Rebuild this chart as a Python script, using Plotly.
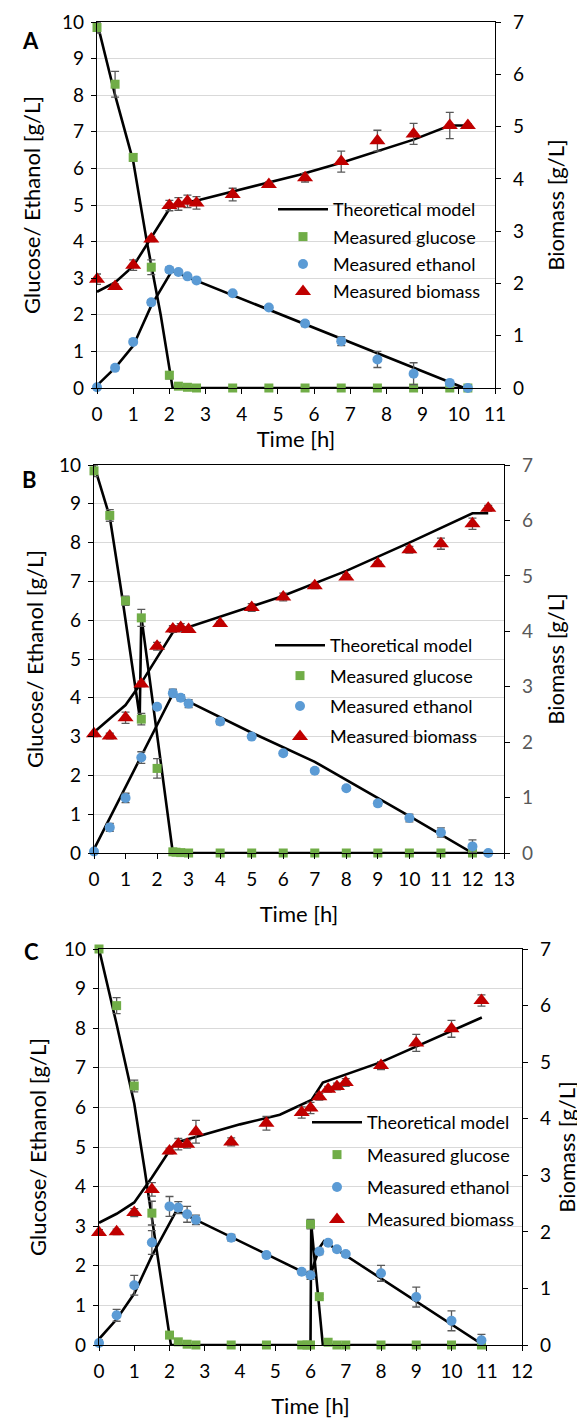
import plotly.graph_objects as go

# ---------------- Panel A ----------------
a_t_glc = [0, 0.5, 1.0, 1.5, 2.0, 2.25, 2.5, 2.75, 3.75, 4.75, 5.75, 6.75, 7.75, 8.75, 9.75, 10.25]
a_glc = [9.85, 8.3, 6.3, 3.3, 0.35, 0.05, 0.02, 0.0, 0.0, 0.0, 0.0, 0.0, 0.0, 0.0, 0.0, 0.0]
a_glc_err = [0.15, 0.35, 0.1, 0.2, 0.1, 0.02, 0.02, 0.02, 0.02, 0.02, 0.02, 0.02, 0.02, 0.05, 0.02, 0.02]

a_t_eth = [0, 0.5, 1.0, 1.5, 2.0, 2.25, 2.5, 2.75, 3.75, 4.75, 5.75, 6.75, 7.75, 8.75, 9.75, 10.25]
a_eth = [0.02, 0.55, 1.26, 2.34, 3.23, 3.17, 3.05, 2.94, 2.59, 2.2, 1.76, 1.28, 0.78, 0.39, 0.14, 0.0]
a_eth_err = [0.05, 0.05, 0.05, 0.07, 0.07, 0.05, 0.05, 0.05, 0.04, 0.05, 0.08, 0.12, 0.22, 0.3, 0.05, 0.02]

a_t_bio = [0, 0.5, 1.0, 1.5, 2.0, 2.25, 2.5, 2.75, 3.75, 4.75, 5.75, 6.75, 7.75, 8.75, 9.75, 10.25]
a_bio = [2.08, 1.94, 2.35, 2.85, 3.49, 3.52, 3.57, 3.54, 3.70, 3.89, 4.02, 4.33, 4.73, 4.86, 5.02, 5.02]
a_bio_err = [0.1, 0.05, 0.1, 0.05, 0.1, 0.12, 0.12, 0.12, 0.12, 0.05, 0.08, 0.2, 0.2, 0.2, 0.25, 0.03]

a_mod_t_glc = [0, 0.5, 1.0, 1.37, 1.76, 2.09, 10.3]
a_mod_glc = [10, 8.0, 6.2, 4.04, 2.0, 0, 0]
a_mod_t_eth = [0, 0.5, 1.0, 1.5, 2.07, 10.15]
a_mod_eth = [0.07, 0.55, 1.15, 2.25, 3.2, 0]
a_mod_t_bio = [0, 0.5, 1.0, 1.5, 2.06, 2.85, 5.6, 6.75, 8.75, 9.75, 10.35]
a_mod_bio = [1.84, 2.02, 2.33, 2.87, 3.49, 3.6, 4.08, 4.31, 4.75, 5.02, 5.02]

# ---------------- Panel B ----------------
b_t_glc = [0, 0.5, 1.0, 1.5, 1.5, 2.0, 2.5, 2.6, 2.75, 3.0, 4, 5, 6, 7, 8, 9, 10, 11, 12]
b_glc = [9.85, 8.7, 6.5, 6.06, 3.45, 2.18, 0.03, 0.02, 0.01, 0.0, 0, 0, 0, 0, 0, 0, 0, 0, 0]
b_glc_err = [0.15, 0.15, 0.12, 0.22, 0.15, 0.25, 0.02, 0.02, 0.02, 0.02, 0.02, 0.02, 0.02, 0.02, 0.02, 0.02, 0.02, 0.02, 0.02]

b_t_eth = [0, 0.5, 1.0, 1.5, 2.0, 2.5, 2.75, 3.0, 4, 5, 6, 7, 8, 9, 10, 11, 12, 12.5]
b_eth = [0.04, 0.66, 1.42, 2.46, 3.77, 4.12, 4.0, 3.85, 3.39, 3.0, 2.57, 2.12, 1.67, 1.28, 0.9, 0.53, 0.17, 0.0]
b_eth_err = [0.05, 0.1, 0.12, 0.15, 0.05, 0.1, 0.08, 0.1, 0.08, 0.04, 0.05, 0.05, 0.05, 0.07, 0.1, 0.12, 0.17, 0.02]

b_t_bio = [0, 0.5, 1.0, 1.5, 2.0, 2.5, 2.75, 3.0, 4, 5, 6, 7, 8, 9, 10, 11, 12, 12.5]
b_bio = [2.15, 2.11, 2.44, 3.05, 3.73, 4.04, 4.07, 4.03, 4.14, 4.43, 4.62, 4.82, 4.98, 5.22, 5.47, 5.58, 5.94, 6.22]
b_bio_err = [0.05, 0.05, 0.1, 0.05, 0.07, 0.06, 0.07, 0.05, 0.04, 0.07, 0.07, 0.05, 0.04, 0.04, 0.06, 0.1, 0.1, 0.05]

b_mod_t_glc = [0, 0.5, 0.86, 1.45, 1.5, 2.5, 12.5]
b_mod_glc = [10, 8.66, 6.78, 3.5, 6.1, 0, 0]
b_mod_t_eth = [0, 2.5, 5, 7, 10, 12.0]
b_mod_eth = [0.1, 4.1, 3.1, 2.35, 0.95, 0]
b_mod_t_bio = [0, 1.0, 1.5, 2.0, 2.5, 5.9, 8.0, 10.0, 12.0, 12.5]
b_mod_bio = [2.18, 2.67, 3.07, 3.53, 3.98, 4.62, 5.09, 5.6, 6.13, 6.13]

# ---------------- Panel C ----------------
c_t_glc = [0, 0.5, 1.0, 1.5, 2.0, 2.25, 2.5, 2.75, 3.75, 4.75, 5.75, 5.9, 6.0, 6.0, 6.25, 6.5, 6.75, 7.0, 8, 9, 10, 10.85]
c_glc = [10.0, 8.57, 6.54, 3.33, 0.25, 0.08, 0.02, 0.0, 0, 0, 0, 0, 0, 3.05, 1.22, 0.07, 0.0, 0.0, 0, 0, 0, 0]
c_glc_err = [0.03, 0.2, 0.15, 0.3, 0.05, 0.03, 0.02, 0.02, 0.02, 0.02, 0.02, 0.02, 0.02, 0.12, 0.05, 0.03, 0.02, 0.02, 0.02, 0.02, 0.02, 0.02]

c_t_eth = [0, 0.5, 1.0, 1.5, 2.0, 2.25, 2.5, 2.75, 3.75, 4.75, 5.75, 6.0, 6.25, 6.5, 6.75, 7.0, 8, 9, 10, 10.85]
c_eth = [0.05, 0.75, 1.51, 2.59, 3.5, 3.47, 3.3, 3.16, 2.71, 2.27, 1.85, 1.76, 2.36, 2.58, 2.42, 2.3, 1.81, 1.21, 0.61, 0.12]
c_eth_err = [0.08, 0.15, 0.25, 0.3, 0.25, 0.15, 0.2, 0.12, 0.08, 0.06, 0.05, 0.1, 0.08, 0.06, 0.06, 0.06, 0.2, 0.25, 0.25, 0.15]

c_t_bio = [0, 0.5, 1.0, 1.5, 2.0, 2.25, 2.5, 2.75, 3.75, 4.75, 5.75, 6.0, 6.25, 6.5, 6.75, 7.0, 8, 9, 10, 10.85]
c_bio = [1.99, 2.0, 2.34, 2.75, 3.43, 3.55, 3.55, 3.77, 3.59, 3.92, 4.11, 4.19, 4.39, 4.52, 4.57, 4.64, 4.94, 5.34, 5.59, 6.09]
c_bio_err = [0.05, 0.05, 0.07, 0.12, 0.05, 0.1, 0.07, 0.2, 0.07, 0.12, 0.1, 0.1, 0.06, 0.05, 0.06, 0.07, 0.07, 0.15, 0.15, 0.1]

c_mod_t_glc = [0, 0.5, 1.0, 1.3, 2.04, 6.0, 6.02, 6.35, 10.9]
c_mod_glc = [10, 8.1, 6.1, 4.4, 0, 0, 3.05, 0, 0]
c_mod_t_eth = [0, 0.5, 1.0, 1.5, 2.2, 6.0, 6.1, 6.25, 6.38, 10.9]
c_mod_eth = [0.15, 0.65, 1.3, 2.25, 3.4, 1.75, 2.05, 2.45, 2.62, 0]
c_mod_t_bio = [0, 0.5, 1.0, 1.5, 2.05, 2.2, 4.0, 5.13, 6.03, 6.35, 8.0, 10.86]
c_mod_bio = [2.16, 2.32, 2.52, 2.96, 3.48, 3.58, 3.9, 4.07, 4.33, 4.64, 5.0, 5.79]

GREEN = "#70ad47"
BLUE = "#5b9bd5"
RED = "#c00000"
ERR = "#595959"
FONT = "Lato"

panels = [
    dict(name="A", xa="x", yl="y", yr="y2", lg="legend", xmax=11,
         glc=(a_t_glc, a_glc, a_glc_err), eth=(a_t_eth, a_eth, a_eth_err), bio=(a_t_bio, a_bio, a_bio_err),
         mg=(a_mod_t_glc, a_mod_glc), me=(a_mod_t_eth, a_mod_eth), mb=(a_mod_t_bio, a_mod_bio)),
    dict(name="B", xa="x2", yl="y3", yr="y4", lg="legend2", xmax=13,
         glc=(b_t_glc, b_glc, b_glc_err), eth=(b_t_eth, b_eth, b_eth_err), bio=(b_t_bio, b_bio, b_bio_err),
         mg=(b_mod_t_glc, b_mod_glc), me=(b_mod_t_eth, b_mod_eth), mb=(b_mod_t_bio, b_mod_bio)),
    dict(name="C", xa="x3", yl="y5", yr="y6", lg="legend3", xmax=12,
         glc=(c_t_glc, c_glc, c_glc_err), eth=(c_t_eth, c_eth, c_eth_err), bio=(c_t_bio, c_bio, c_bio_err),
         mg=(c_mod_t_glc, c_mod_glc), me=(c_mod_t_eth, c_mod_eth), mb=(c_mod_t_bio, c_mod_bio)),
]

fig = go.Figure()
line = dict(color="black", width=2.6)

for p in panels:
    # model lines
    fig.add_trace(go.Scatter(x=p["mg"][0], y=p["mg"][1], mode="lines", line=line, xaxis=p["xa"], yaxis=p["yl"],
                             name="Theoretical model", legend=p["lg"], legendgroup="m" + p["name"], showlegend=True))
    fig.add_trace(go.Scatter(x=p["me"][0], y=p["me"][1], mode="lines", line=line, xaxis=p["xa"], yaxis=p["yl"],
                             legend=p["lg"], legendgroup="m" + p["name"], showlegend=False))
    fig.add_trace(go.Scatter(x=p["mb"][0], y=p["mb"][1], mode="lines", line=line, xaxis=p["xa"], yaxis=p["yr"],
                             legend=p["lg"], legendgroup="m" + p["name"], showlegend=False))
    # measurements
    for key, nm, col, sym, sz, ya in [("glc", "Measured glucose", GREEN, "square", 9, p["yl"]),
                                      ("eth", "Measured ethanol", BLUE, "circle", 10, p["yl"]),
                                      ("bio", "Measured biomass", RED, "triangle-up", 14, p["yr"])]:
        t, v, e = p[key]
        fig.add_trace(go.Scatter(
            x=t, y=v, mode="markers", name=nm, xaxis=p["xa"], yaxis=ya,
            marker=dict(symbol=sym, size=sz, color=col, line=dict(width=0)),
            error_y=dict(type="data", array=e, color=ERR, thickness=1.3, width=4),
            cliponaxis=False, legend=p["lg"], legendgroup=key + p["name"]))

H = 1419
W = 585
OFF = 8  # page body margin shifts the figure by this many pixels


def px_x(px):
    return (px - OFF) / W


def px_y(px):
    return 1 - (px - OFF) / H


dom = {
    "A": dict(x=[px_x(97), px_x(495)], y=[px_y(388), px_y(22)]),
    "B": dict(x=[px_x(94), px_x(504)], y=[px_y(853), px_y(465)]),
    "C": dict(x=[px_x(99), px_x(522)], y=[px_y(1345), px_y(949)]),
}

tickfont = dict(family=FONT, size=19, color="black")
titlefont = dict(family=FONT, size=22, color="black")

layout = dict(
    width=W, height=H, margin=dict(l=0, r=0, t=0, b=0, autoexpand=False),
    paper_bgcolor="white", plot_bgcolor="white",
    font=dict(family=FONT, size=18, color="black"),
)

legend_pos = {"A": (273, 191), "B": (270, 627), "C": (307, 1104)}
legend_gap = {"A": 1, "B": 4, "C": 6}
x_title_gap = {"A": 5, "B": 17, "C": 17}
l_title_gap = {"A": 15, "B": 9, "C": 11}
r_title_gap = {"A": 25, "B": 16, "C": 9}

for i, p in enumerate(panels):
    n = p["name"]
    sx = "" if i == 0 else str(i + 1)
    yl_name = "yaxis" if i == 0 else "yaxis" + str(2 * i + 1)
    yr_name = "yaxis" + str(2 * i + 2)
    layout["xaxis" + sx] = dict(
        domain=dom[n]["x"], anchor=p["yl"], range=[0, p["xmax"]], dtick=1, tick0=0, automargin=False,
        showline=True, linecolor="black", linewidth=1.3, mirror=True,
        ticks="outside", ticklen=5, tickcolor="black", tickwidth=1.2,
        showgrid=False, zeroline=False, tickfont=tickfont, ticklabelstandoff=4,
        title=dict(text="Time [h]", font=titlefont, standoff=x_title_gap[n]),
    )
    layout[yl_name] = dict(
        domain=dom[n]["y"], anchor=p["xa"], range=[0, 10], dtick=1, tick0=0, automargin=False,
        showline=True, linecolor="black", linewidth=1.3,
        ticks="outside", ticklen=5, tickcolor="black", tickwidth=1.2,
        showgrid=True, gridcolor="#d9d9d9", gridwidth=1.2, zeroline=False, tickfont=tickfont,
        ticklabelstandoff=3,
        title=dict(text="Glucose/ Ethanol [g/L]", font=titlefont, standoff=l_title_gap[n]),
    )
    rfont = dict(tickfont)
    if n == "B":
        rfont["color"] = "#595959"
    layout[yr_name] = dict(
        overlaying=p["yl"], side="right", anchor=p["xa"], range=[0, 7], dtick=1, tick0=0, automargin=False,
        showline=True, linecolor="black", linewidth=1.3,
        ticks="outside", ticklen=5, tickcolor="black", tickwidth=1.2,
        showgrid=False, zeroline=False, tickfont=rfont, ticklabelstandoff=8,
        title=dict(text="Biomass [g/L]", font=titlefont, standoff=r_title_gap[n]),
    )
    lgx, lgy = legend_pos[n]
    layout[p["lg"]] = dict(
        x=px_x(lgx), y=px_y(lgy), xanchor="left", yanchor="top", bgcolor="rgba(0,0,0,0)",
        font=dict(family=FONT, size=18, color="black"), traceorder="grouped",
        tracegroupgap=legend_gap[n], itemwidth=50,
    )

fig.update_layout(**layout)

for n, xpx, ypx in [("A", 20, 25), ("B", 20, 464), ("C", 22, 951)]:
    fig.add_annotation(text="<b>" + n + "</b>", x=px_x(xpx), y=px_y(ypx), xref="paper", yref="paper",
                       showarrow=False, font=dict(family=FONT, size=22, color="black"))

fig.write_html("out.html")
